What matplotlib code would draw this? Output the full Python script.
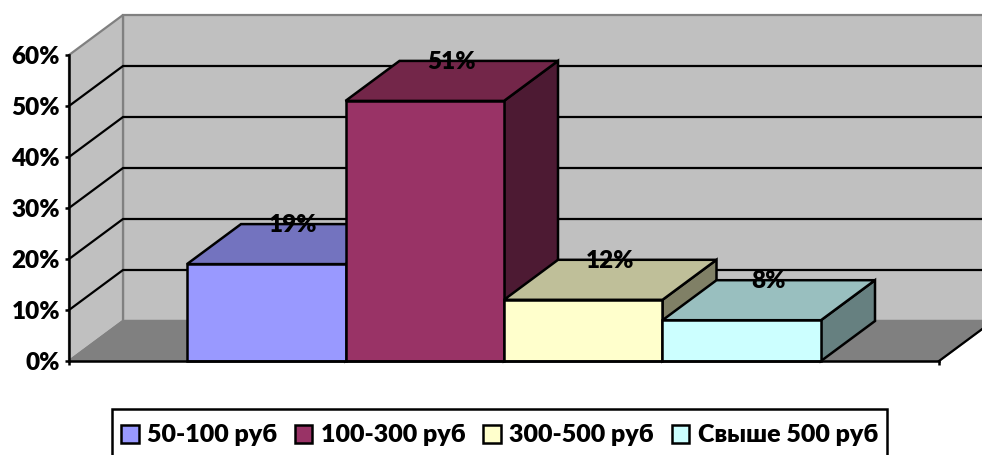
import matplotlib
matplotlib.use("Agg")
import matplotlib.pyplot as plt
from matplotlib.legend_handler import HandlerPatch
from matplotlib.patches import Polygon, Patch, Rectangle

plt.rcParams['font.family'] = 'Lato'
plt.rcParams['font.weight'] = 800

# Price bands and their shares, in percent
categories = ["50-100 руб", "100-300 руб", "300-500 руб", "Свыше 500 руб"]
shares = [19, 51, 12, 8]
value_labels = ["19%", "51%", "12%", "8%"]
y_ticks = [0, 10, 20, 30, 40, 50, 60]
y_tick_labels = ["0%", "10%", "20%", "30%", "40%", "50%", "60%"]

front_colors = ["#9999FF", "#993366", "#FFFFCC", "#CCFFFF"]
top_colors = ["#7373BF", "#732649", "#BFBF99", "#99BFBF"]
side_colors = ["#4D1A33", "#4D1A33", "#808066", "#668080"]

W, H = 982, 455
LW = 1.8
GRID_LW = 1.6
GREY_EDGE = "#808080"

fig = plt.figure(figsize=(W / 100, H / 100), dpi=100, facecolor="white")
ax = fig.add_axes([69 / W, 1 - 361 / H, (939 - 69) / W, (361 - 55) / H])
ax.patch.set_visible(False)

# One slot per bar; the plot floor runs a bit wider than the four bars
x_left, x_right = -0.7445, 4.7445
ax.set_xlim(x_left, x_right)
ax.set_ylim(0, 60)

# Oblique projection offset for the depth of the box
depth_x = 54 / 158.5
depth_y = 40 / 5.1


def shape(points, **kw):
    ax.add_patch(Polygon(points, closed=True, clip_on=False, **kw))


far_right = x_right + depth_x
far_left = x_left + depth_x

# Walls and floor
shape([(far_left, depth_y), (far_right, depth_y), (far_right, 60 + depth_y), (far_left, 60 + depth_y)],
      facecolor="#C0C0C0", edgecolor=GREY_EDGE, lw=GRID_LW, zorder=1)
shape([(x_left, 0), (far_left, depth_y), (far_left, 60 + depth_y), (x_left, 60)],
      facecolor="#C0C0C0", edgecolor=GREY_EDGE, lw=GRID_LW, zorder=1)
shape([(x_left, 0), (x_right, 0), (far_right, depth_y), (far_left, depth_y)],
      facecolor="#808080", edgecolor=GREY_EDGE, lw=GRID_LW, zorder=1)

# Gridlines wrap from the side wall onto the back wall
for t in y_ticks[1:-1]:
    ax.plot([x_left, far_left, far_right], [t, t + depth_y, t + depth_y],
            color="black", lw=GRID_LW, clip_on=False, zorder=2, solid_joinstyle="miter")

# Bars, painted left to right so nearer faces overlap correctly
for i, (v, f, t, s) in enumerate(zip(shares, front_colors, top_colors, side_colors)):
    z = 3 + i
    shape([(i + 1, 0), (i + 1 + depth_x, depth_y), (i + 1 + depth_x, v + depth_y), (i + 1, v)],
          facecolor=s, edgecolor="black", lw=LW, zorder=z, joinstyle="miter")
    shape([(i, v), (i + 1, v), (i + 1 + depth_x, v + depth_y), (i + depth_x, v + depth_y)],
          facecolor=t, edgecolor="black", lw=LW, zorder=z, joinstyle="miter")
    ax.bar(i, v, width=1, align="edge", color=f, edgecolor="black", lw=LW, zorder=z, clip_on=False)

for i, (v, lab) in enumerate(zip(shares, value_labels)):
    ax.text(i + 0.5 + depth_x / 2, v + depth_y - 0.2, lab, ha="center", va="center",
            fontsize=17.5, fontweight=800, color="black", zorder=10)

# Axes
ax.plot([x_right, far_right], [0, depth_y], color="black", lw=GRID_LW, clip_on=False, zorder=2)
for name in ("top", "right"):
    ax.spines[name].set_visible(False)
for name in ("left", "bottom"):
    ax.spines[name].set_linewidth(LW)
    ax.spines[name].set_zorder(9)
ax.set_yticks(y_ticks, y_tick_labels, fontsize=17.5, fontweight=800)
ax.set_xticks([x_left, x_right], ["", ""])
ax.tick_params(axis="both", length=3, width=LW, color="black", pad=3.5)


def square_swatch(legend, orig_handle, xdescent, ydescent, width, height, fontsize):
    # Keep the swatch square even though the legend row is tall
    side = 12.5
    return Rectangle((-xdescent, -ydescent + (height - side) / 2), side, side)


# Legend across the bottom; its lower edge runs off the figure
handles = [Patch(facecolor=c, edgecolor="black", lw=LW, label=n) for c, n in zip(front_colors, categories)]
leg = ax.legend(handles=handles, ncol=4, loc="upper center",
                bbox_to_anchor=((499.5 - 69) / (939 - 69), (361 - 409) / (361 - 55)),
                prop={"size": 18, "weight": 800}, frameon=True, fancybox=False,
                edgecolor="black", framealpha=1, handlelength=0.7, handleheight=1.6,
                handletextpad=0.33, columnspacing=0.72, borderpad=0.36, borderaxespad=0,
                handler_map={Patch: HandlerPatch(patch_func=square_swatch)})
leg.get_frame().set_linewidth(LW)

fig.savefig("out.png", dpi=100)
